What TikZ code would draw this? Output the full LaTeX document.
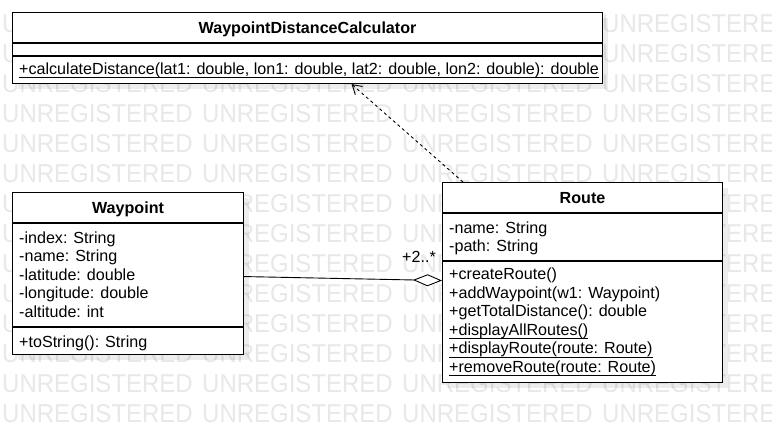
\documentclass[tikz,border=0pt]{standalone}
\usepackage{fontspec}
\setmainfont{Liberation Sans}
\usetikzlibrary{arrows.meta}

\newcommand{\staticop}[1]{\setbox0\hbox{#1}\rlap{\rule[-4pt]{\wd0}{0.9pt}}\box0}

\tikzset{
  classbox/.style={draw, fill=white, line width=1.1pt, inner sep=0pt, anchor=north west},
  boxshadow/.style={fill=black, opacity=0.07, inner sep=0pt, anchor=north west},
  classname/.style={anchor=base, inner sep=0pt, font=\bfseries\fontsize{16.1}{19}\selectfont},
  member/.style={anchor=base west, inner sep=0pt, font=\fontsize{16.1}{19}\selectfont},
  divider/.style={line width=1.1pt},
  watermark/.style={anchor=base west, inner sep=0pt, text=black!9, xscale=0.93, font=\fontsize{25.8}{30}\selectfont},
  dependency/.style={line width=0.9pt, dash pattern=on 3pt off 3pt, -{Straight Barb[length=9pt,width=11pt]}},
  aggregation/.style={line width=0.9pt, -{Diamond[open,length=29pt,width=12pt]}},
}

\begin{document}
\begin{tikzpicture}[x=1pt, y=-1pt]
\useasboundingbox (0,0) rectangle (772,432);
\fill[white] (0,0) rectangle (772,432);

% watermark
\begin{scope}
\clip (0,0) rectangle (772,432);
\foreach \r in {0,...,13}
  \foreach \c in {0,...,3}
    \node[watermark] (wm\r-\c) at ({2+200*\c}, {32.5+30*\r}) {UNREGISTERED};
\end{scope}

% shadows
\node[boxshadow, minimum width=590pt, minimum height=71pt] (wdcshadow) at (18,18) {};
\node[boxshadow, minimum width=231pt, minimum height=162pt] (wpshadow) at (18,198) {};
\node[boxshadow, minimum width=280pt, minimum height=200pt] (rtshadow) at (448,188) {};

% WaypointDistanceCalculator
\node[classbox, minimum width=590pt, minimum height=71pt] (wdc) at (12,12) {};
\draw[divider] (wdc.west |- 0,43) -- (wdc.east |- 0,43);
\draw[divider] (wdc.west |- 0,56) -- (wdc.east |- 0,56);
\node[classname] (wdcname) at (wdc.north |- 0,33) {WaypointDistanceCalculator};
\node[member] (wdcop) at (19,74) {\staticop{+calculateDistance(lat1: double, lon1: double, lat2: double, lon2: double): double}};

% Waypoint
\node[classbox, minimum width=231pt, minimum height=162pt] (wp) at (12,192) {};
\draw[divider] (wp.west |- 0,223) -- (wp.east |- 0,223);
\draw[divider] (wp.west |- 0,327) -- (wp.east |- 0,327);
\node[classname] (wpname) at (wp.north |- 0,213) {Waypoint};
\foreach \txt [count=\i] in {-index: String, -name: String, -latitude: double, -longitude: double, -altitude: int}
  \node[member] (wpattr\i) at (19, {243+18.5*(\i-1)}) {\txt};
\node[member] (wpop1) at (19,347) {+toString(): String};

% Route
\node[classbox, minimum width=280pt, minimum height=200pt] (rt) at (442,182) {};
\draw[divider] (rt.west |- 0,213) -- (rt.east |- 0,213);
\draw[divider] (rt.west |- 0,261) -- (rt.east |- 0,261);
\node[classname] (rtname) at (rt.north |- 0,203) {Route};
\foreach \txt [count=\i] in {-name: String, -path: String}
  \node[member] (rtattr\i) at (449, {233.3+18.5*(\i-1)}) {\txt};
\foreach \txt [count=\i] in {+createRoute(), +addWaypoint(w1: Waypoint), +getTotalDistance(): double, \staticop{+displayAllRoutes()}, \staticop{+displayRoute(route: Route)}, \staticop{+removeRoute(route: Route)}}
  \node[member] (rtop\i) at (449, {279.5+18.5*(\i-1)}) {\txt};

% relations
\draw[aggregation] ([yshift=-3pt]wp.east) -- ([yshift=2pt]rt.west);
\node[member, anchor=base east] (mult) at (436,262) {+2..*};
\draw[dependency] ([xshift=21pt]rt.north west) -- ([xshift=44pt]wdc.south);

\end{tikzpicture}
\end{document}
